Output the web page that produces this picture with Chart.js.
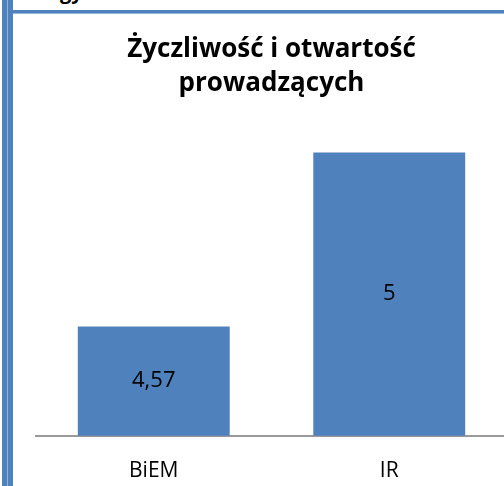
<!DOCTYPE html>
<html>
<head>
<meta charset="utf-8">
<script src="https://cdn.jsdelivr.net/npm/chart.js@4/dist/chart.umd.min.js"></script>
<style>
  html, body { margin: 0; padding: 0; background: #fff; overflow: hidden; width: 504px; height: 486px; }
  #frame { position: absolute; left: 0; top: 0; width: 504px; height: 486px; overflow: hidden; }
  .vb1 { position: absolute; z-index: 5; left: 2px; top: 0; width: 5px; height: 486px; background: #4F81BD; }
  .vgap { position: absolute; z-index: 5; left: 7px; top: 0; width: 1px; height: 486px; background: #95B3D7; }
  .vb2 { position: absolute; z-index: 5; left: 8px; top: 0; width: 5px; height: 486px; background: #4F81BD; }
  .hb { position: absolute; z-index: 5; left: 13px; top: 10px; width: 491px; height: 3px; background: #4F81BD; border-bottom: 1px solid #95B3D7; }
  .cut { position: absolute; z-index: 4; left: 60px; top: -20px; font: bold 20px "Open Sans", sans-serif; color: #000; line-height: 24px; }
  #wrap { position: absolute; z-index: 1; left: 14px; top: 15px; width: 496px; height: 492px; }
</style>
</head>
<body>
<div id="frame">
  <div class="cut">gy.</div>
  <div class="vb1"></div><div class="vgap"></div><div class="vb2"></div>
  <div class="hb"></div>
  <div id="wrap"><canvas id="c" width="496" height="492"></canvas></div>
</div>
<script>
const categories = ["BiEM", "IR"];
const values = [4.57, 5];
const valueLabels = ["4,57", "5"];
const titleLines = ["Życzliwość i otwartość", "prowadzących"];
const yMin = 4.3;
const yMax = 5.1;

const barLabels = {
  id: 'barLabels',
  afterDatasetsDraw(chart) {
    const ctx = chart.ctx;
    const meta = chart.getDatasetMeta(0);
    const basePx = chart.scales.y.getPixelForValue(yMin);
    ctx.save();
    ctx.font = '22px "Open Sans", sans-serif';
    ctx.fillStyle = '#000000';
    ctx.textAlign = 'center';
    ctx.textBaseline = 'middle';
    meta.data.forEach((bar, i) => {
      const cy = (bar.y + basePx) / 2;
      ctx.fillText(valueLabels[i], bar.x, cy);
    });
    ctx.restore();
  }
};

new Chart(document.getElementById('c'), {
  type: 'bar',
  data: {
    labels: categories,
    datasets: [{
      data: values,
      backgroundColor: '#4F81BD',
      borderWidth: 0,
      barPercentage: 0.645,
      categoryPercentage: 1.0
    }]
  },
  options: {
    responsive: false,
    animation: false,
    layout: { padding: { left: 22, right: 3, top: 0, bottom: 0 } },
    plugins: {
      legend: { display: false },
      tooltip: { enabled: false },
      title: {
        display: true,
        text: titleLines,
        color: '#000',
        font: { family: '"Open Sans", sans-serif', size: 26, weight: 'bold', lineHeight: 1.31 },
        padding: { top: 18, bottom: 11 }
      }
    },
    scales: {
      x: {
        offset: true,
        grid: { display: false, drawTicks: false },
        border: { display: true, color: '#9a9a9a', width: 2 },
        ticks: { color: '#000', font: { family: '"Open Sans", sans-serif', size: 21 }, padding: 23 }
      },
      y: {
        display: false,
        min: yMin,
        max: yMax
      }
    }
  },
  plugins: [barLabels]
});
</script>
</body>
</html>
